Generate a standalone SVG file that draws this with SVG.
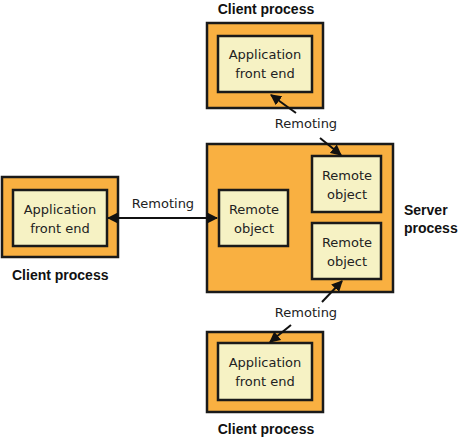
<svg xmlns="http://www.w3.org/2000/svg" width="458" height="439" viewBox="0 0 458 439">
<style>
.outer{fill:#F9B041;stroke:#1a1a1a;stroke-width:2.5}
.inner{fill:#F6F2C4;stroke:#1a1a1a;stroke-width:2.5}
.t{font-family:"DejaVu Sans",sans-serif;font-size:13px;fill:#222;text-anchor:middle}
.b{font-family:"Liberation Sans",Arial,sans-serif;font-size:14px;font-weight:bold;fill:#111}
.c{stroke:#111;stroke-width:2;fill:none}
</style>
<defs>
<marker id="ah" viewBox="0 0 10 10" refX="9" refY="5" markerWidth="5.5" markerHeight="5.5" orient="auto-start-reverse" markerUnits="strokeWidth">
<path d="M0,0 L10,5 L0,10 z" fill="#111"/>
</marker>
</defs>
<rect width="458" height="439" fill="#fff"/>
<g id="client-top">
<text class="b" x="266" y="14" text-anchor="middle">Client process</text>
<rect class="outer" x="207" y="23" width="116" height="85"/>
<rect class="inner" x="218" y="36" width="94" height="56"/>
<text class="t" x="265" y="59">Application</text>
<text class="t" x="265" y="78">front end</text>
</g>
<g id="client-left">
<rect class="outer" x="2" y="177" width="116" height="80"/>
<rect class="inner" x="13" y="190" width="94" height="56"/>
<text class="t" x="60" y="214">Application</text>
<text class="t" x="60" y="233">front end</text>
<text class="b" x="12" y="280">Client process</text>
</g>
<g id="server">
<rect class="outer" x="207" y="144" width="186" height="148"/>
<text class="b" x="404" y="215">Server</text>
<text class="b" x="404" y="233">process</text>
</g>
<g id="remote-left">
<rect class="inner" x="219" y="190" width="69" height="56"/>
<text class="t" x="254" y="214">Remote</text>
<text class="t" x="254" y="233">object</text>
</g>
<g id="remote-top">
<rect class="inner" x="312" y="156" width="69" height="56"/>
<text class="t" x="347" y="180">Remote</text>
<text class="t" x="347" y="199">object</text>
</g>
<g id="remote-bottom">
<rect class="inner" x="312" y="223" width="69" height="56"/>
<text class="t" x="347" y="247">Remote</text>
<text class="t" x="347" y="266">object</text>
</g>
<g id="client-bottom">
<rect class="outer" x="207" y="332" width="116" height="80"/>
<rect class="inner" x="218" y="343" width="94" height="57"/>
<text class="t" x="265" y="367">Application</text>
<text class="t" x="265" y="386">front end</text>
<text class="b" x="266" y="434" text-anchor="middle">Client process</text>
</g>
<g id="connectors">
<line class="c" x1="108" y1="218" x2="217" y2="218" marker-start="url(#ah)" marker-end="url(#ah)"/>
<text class="t" x="163" y="208">Remoting</text>
<line class="c" x1="296" y1="113" x2="271" y2="95" marker-end="url(#ah)"/>
<line class="c" x1="320" y1="138" x2="341" y2="155" marker-end="url(#ah)"/>
<text class="t" x="306" y="128">Remoting</text>
<line class="c" x1="322" y1="302" x2="342" y2="281" marker-end="url(#ah)"/>
<line class="c" x1="291" y1="325" x2="270" y2="342" marker-end="url(#ah)"/>
<text class="t" x="306" y="317">Remoting</text>
</g>
</svg>
